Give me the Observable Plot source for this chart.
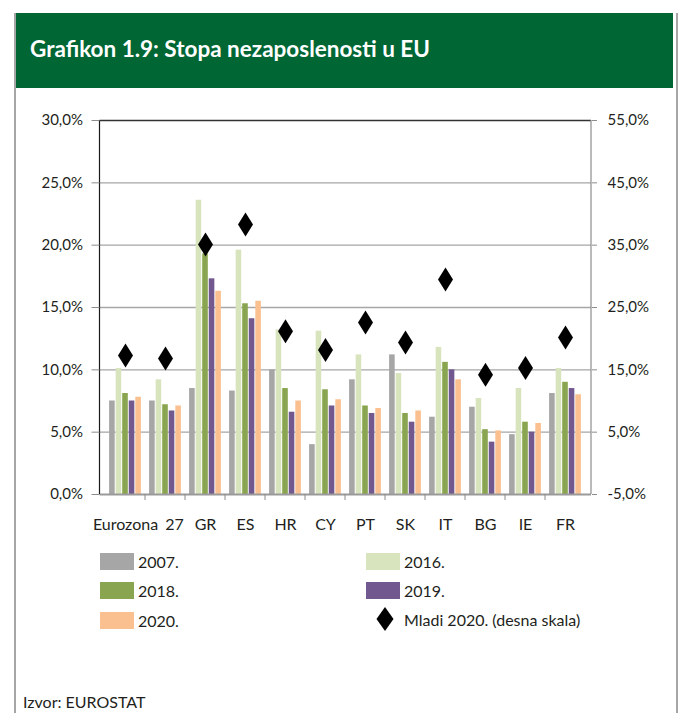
<!DOCTYPE html>
<html>
<head>
<meta charset="utf-8">
<script src="https://cdn.jsdelivr.net/npm/d3@7"></script>
<script src="https://cdn.jsdelivr.net/npm/@observablehq/plot@0.6"></script>
<style>
  html, body { margin: 0; padding: 0; background: #fff; }
  #page { position: relative; width: 679px; height: 713px; overflow: hidden; font-family: Lato, "Noto Sans", sans-serif; color: #231f20; }
  #header { position: absolute; left: 15px; top: 13px; width: 658px; height: 75px; background: #006633; }
  #title { position: absolute; left: 30px; top: 13px; height: 75px; line-height: 72px; color: #fff; font-weight: bold; font-size: 22.5px; white-space: nowrap; }
  .border { position: absolute; top: 13px; bottom: 0; width: 1.5px; background: #a6a6a6; }
  #chart { position: absolute; left: 0; top: 0; }
  .leg { position: absolute; display: flex; align-items: center; font-size: 16px; white-space: nowrap; }
  .sw { width: 34px; height: 17px; margin-right: 4px; }
  #source { position: absolute; left: 23px; top: 692px; font-size: 16px; }
</style>
</head>
<body>
<div id="page">
  <div id="header"></div>
  <div id="title">Grafikon 1.9: Stopa nezaposlenosti u EU</div>
  <div class="border" style="left:14px"></div>
  <div class="border" style="left:676px"></div>
  <div id="chart"></div>
  <div id="legend"></div>
  <div id="source">Izvor: EUROSTAT</div>
</div>
<script>
// ---- data ----
const categories = ["Eurozona", "27", "GR", "ES", "HR", "CY", "PT", "SK", "IT", "BG", "IE", "FR"];
const s2007 = [7.5, 7.5, 8.5, 8.3, 10.0, 4.0, 9.2, 11.2, 6.2, 7.0, 4.8, 8.1];
const s2016 = [10.1, 9.2, 23.6, 19.6, 13.2, 13.1, 11.2, 9.7, 11.8, 7.7, 8.5, 10.1];
const s2018 = [8.1, 7.2, 19.3, 15.3, 8.5, 8.4, 7.1, 6.5, 10.6, 5.2, 5.8, 9.0];
const s2019 = [7.5, 6.7, 17.3, 14.1, 6.6, 7.1, 6.5, 5.8, 10.0, 4.2, 5.0, 8.5];
const s2020 = [7.8, 7.1, 16.3, 15.5, 7.5, 7.6, 6.9, 6.7, 9.2, 5.1, 5.7, 8.0];
const youth2020 = [17.3, 16.8, 35.1, 38.3, 21.2, 18.2, 22.6, 19.4, 29.5, 14.2, 15.3, 20.2];
const leftTicks = [0, 5, 10, 15, 20, 25, 30];
const rightDomain = [-5, 55];
const seriesNames = ["2007.", "2016.", "2018.", "2019.", "2020."];
const youthName = "Mladi 2020. (desna skala)";

// ---- styles ----
const colors = ["#a6a6a6", "#d7e4bd", "#8aa550", "#71598f", "#fac090"];
const seriesValues = [s2007, s2016, s2018, s2019, s2020];

const W = 679, H = 540, mL = 99.5, mR = 88, mT = 120, mB = 46;
const step = (W - mL - mR) / categories.length;
const pad = 4.1;
const bw = (step - 2 * pad) / seriesValues.length;

const fmt = v => v.toFixed(1).replace(".", ",") + "%";
// right scale mapped onto left scale: [-5,55] -> [0,30]
const toLeft = v => (v - rightDomain[0]) * 30 / (rightDomain[1] - rightDomain[0]);
const toRight = t => rightDomain[0] + t * (rightDomain[1] - rightDomain[0]) / 30;

const tallDiamond = {
  draw(ctx) {
    ctx.moveTo(0, -12);
    ctx.lineTo(7.5, 0);
    ctx.lineTo(0, 12);
    ctx.lineTo(-7.5, 0);
    ctx.closePath();
  }
};

const rows = categories.map((c, i) => ({c, y: toLeft(youth2020[i])}));

const barMarks = seriesValues.map((vals, s) =>
  Plot.barY(categories.map((c, i) => ({c, v: vals[i]})), {
    x: "c", y: "v", fill: colors[s],
    insetLeft: pad + s * bw,
    insetRight: step - pad - (s + 1) * bw
  })
);

const vLines = (index, scales, values, dims) => {
  const g = document.createElementNS("http://www.w3.org/2000/svg", "g");
  const mk = (x, stroke) => {
    const l = document.createElementNS("http://www.w3.org/2000/svg", "line");
    l.setAttribute("x1", x); l.setAttribute("x2", x);
    l.setAttribute("y1", dims.marginTop); l.setAttribute("y2", dims.height - dims.marginBottom);
    l.setAttribute("stroke", stroke); l.setAttribute("stroke-width", 1.2);
    g.appendChild(l);
  };
  mk(dims.marginLeft, "#1a1a1a");
  mk(dims.width - dims.marginRight, "#8c8c8c");
  return g;
};

const chart = Plot.plot({
  width: W, height: H,
  marginLeft: mL, marginRight: mR, marginTop: mT, marginBottom: mB,
  x: {type: "band", domain: categories, padding: 0},
  y: {domain: [0, 30]},
  style: {fontFamily: "Lato, 'Noto Sans', sans-serif", color: "#231f20", background: "transparent"},
  marks: [
    Plot.ruleY(leftTicks.filter(t => t > 0 && t < 30), {stroke: "#a6a6a6", strokeWidth: 1.3}),
    ...barMarks,
    Plot.ruleY([30], {stroke: "#333", strokeWidth: 1.3}),
    Plot.ruleY([0], {stroke: "#9a9a9a", strokeWidth: 2}),
    vLines,
    Plot.axisY({anchor: "left", ticks: leftTicks, tickSize: 8, tickPadding: 9, tickFormat: fmt,
      fontSize: 15, stroke: "#8c8c8c", fill: "#231f20", label: null}),
    Plot.axisY({anchor: "right", ticks: leftTicks, tickSize: 5, tickPadding: 11,
      tickFormat: t => fmt(toRight(t)), fontSize: 15, stroke: "#8c8c8c", fill: "#231f20", label: null}),
    Plot.axisX({ticks: categories.slice(1), tickSize: 6, dx: -step / 2, tickFormat: () => "",
      stroke: "#8c8c8c", label: null}),
    Plot.axisX({ticks: categories.filter(c => c !== "27"), tickSize: 0, tickPadding: 24,
      fontSize: 16, fill: "#231f20", label: null}),
    Plot.axisX({ticks: ["27"], tickSize: 0, tickPadding: 24, dx: 9,
      fontSize: 16, fill: "#231f20", label: null}),
    Plot.dot(rows, {x: "c", y: "y", symbol: tallDiamond, fill: "#000", stroke: "none"})
  ]
});
document.getElementById("chart").appendChild(chart);

// ---- legend ----
const legend = document.getElementById("legend");
const legendPos = [
  {left: 100, top: 552}, {left: 366, top: 552},
  {left: 100, top: 581}, {left: 366, top: 581},
  {left: 100, top: 611}
];
seriesNames.forEach((name, i) => {
  const d = document.createElement("div");
  d.className = "leg";
  d.style.left = legendPos[i].left + "px";
  d.style.top = legendPos[i].top + "px";
  d.innerHTML = `<div class="sw" style="background:${colors[i]}"></div><span>${name}</span>`;
  legend.appendChild(d);
});
{
  const d = document.createElement("div");
  d.className = "leg";
  d.style.left = "366px";
  d.style.top = "607px";
  d.innerHTML = `<svg width="34" height="24" style="margin-right:4px"><path d="M19,0L27.5,12L19,24L10.5,12Z" fill="#000"/></svg><span>${youthName}</span>`;
  legend.appendChild(d);
}
</script>
</body>
</html>
